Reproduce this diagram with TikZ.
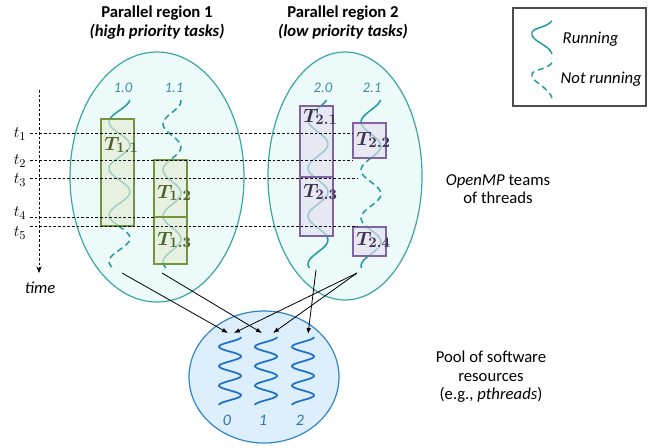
\documentclass[tikz,border=0pt]{standalone}
\usepackage{fontspec}
\setmainfont{Carlito}
\usepackage{bm}
\usepackage{xcolor}
\usetikzlibrary{arrows.meta}

\definecolor{tealrun}{HTML}{1E9A9A}
\definecolor{teallbl}{HTML}{3A8FA6}
\definecolor{regfill}{HTML}{ECFAFA}
\definecolor{regline}{HTML}{3AA6A6}
\definecolor{grnline}{HTML}{77933C}
\definecolor{grnfill}{HTML}{E4EDD6}
\definecolor{grntext}{HTML}{4F6228}
\definecolor{purline}{HTML}{8064A2}
\definecolor{purfill}{HTML}{E3DFEE}
\definecolor{purtext}{HTML}{3F3151}
\definecolor{poolfill}{HTML}{DDEEFC}
\definecolor{poolline}{HTML}{2E86C8}
\definecolor{spring}{HTML}{1F70C8}
\definecolor{poollbl}{HTML}{2E75B6}

\begin{document}
\begin{tikzpicture}[x=0.75pt,y=-0.75pt,
  region/.style={draw=regline,fill=regfill,line width=0.9pt},
  pool/.style={draw=poolline,fill=poolfill,line width=0.9pt},
  run/.style={draw=tealrun,line width=1.1pt},
  idle/.style={run,dash pattern=on 4.5pt off 3pt},
  taskA/.style={draw=grnline,fill=grnfill,fill opacity=0.65,line width=1.5pt},
  taskB/.style={draw=purline,fill=purfill,fill opacity=0.65,line width=1.5pt},
  tlblA/.style={text=grntext,inner sep=0pt,anchor=base west,font=\fontsize{15}{17}\selectfont},
  tlblB/.style={tlblA,text=purtext},
  thrlbl/.style={text=teallbl,font=\fontsize{11}{13}\selectfont\itshape},
  txt/.style={font=\fontsize{12.5}{13.8}\selectfont,align=center},
  title/.style={txt,font=\fontsize{12.5}{14}\selectfont\bfseries},
  tline/.style={line width=0.6pt,dash pattern=on 2pt off 1.5pt},
  link/.style={line width=0.6pt,-{Latex[length=4.5pt,width=3.5pt]}}]
  \useasboundingbox (0,0) rectangle (648,447);

  % regions
  \draw[region] (157,177) ellipse [x radius=87,y radius=125];
  \draw[region] (345,176) ellipse [x radius=77,y radius=124];

  % threads of region 1
  \draw[run] plot[domain=100:226,samples=60,variable=\t] ({119.5-10.5*cos((\t-122)/46.5*360)},\t);
  \draw[idle] plot[domain=226:268,samples=25,variable=\t] ({119.5-10.5*cos((\t-122)/46.5*360)},\t);
  \draw[idle] plot[domain=100:160,samples=30,variable=\t] ({172-9*cos((\t-124)/46*360)},\t);
  \draw[run] plot[domain=160:268,samples=60,variable=\t] ({172-9*cos((\t-124)/46*360)},\t);
  % threads of region 2
  \draw[run] plot[domain=100:268,samples=80,variable=\t] ({318-10*cos((\t-120)/48*360)},\t);
  \draw[run] plot[domain=100:158,samples=30,variable=\t] ({371-10*cos((\t-122)/48*360)},\t);
  \draw[idle] plot[domain=158:227,samples=35,variable=\t] ({371-10*cos((\t-122)/48*360)},\t);
  \draw[run] plot[domain=227:268,samples=25,variable=\t] ({371-10*cos((\t-122)/48*360)},\t);

  % tasks
  \draw[taskA] (101,119) rectangle (134,226);
  \draw[taskA] (154,160) rectangle (187,217);
  \draw[taskA] (154,217) rectangle (187,264);
  \draw[taskB] (300,106) rectangle (333,177);
  \draw[taskB] (300,177) rectangle (333,236);
  \draw[taskB] (353,123) rectangle (386,158);
  \draw[taskB] (353,227) rectangle (386,256);

  % time instants
  \foreach \y/\xe in {133/353,160/353,178/357,217/155,226/357}
    \draw[tline] (30,\y) -- (\xe,\y);
  \node[font=\fontsize{12.5}{14}\selectfont] (t1) at (20,134) {$t_1$};
  \node[font=\fontsize{12.5}{14}\selectfont] (t2) at (20,161) {$t_2$};
  \node[font=\fontsize{12.5}{14}\selectfont] (t3) at (20,180) {$t_3$};
  \node[font=\fontsize{12.5}{14}\selectfont] (t4) at (20,213) {$t_4$};
  \node[font=\fontsize{12.5}{14}\selectfont] (t5) at (20,233) {$t_5$};
  \draw[tline,-{Stealth[length=5pt,width=4pt]}] (39,90) -- (39,273);
  \node[txt,font=\fontsize{12.5}{14}\selectfont\itshape] (time) at (40,288) {time};

  \node[tlblA] (l11) at (104,150) {$\bm{T_{1.1}}$};
  \node[tlblA] (l12) at (157,198) {$\bm{T_{1.2}}$};
  \node[tlblA] (l13) at (157,245) {$\bm{T_{1.3}}$};
  \node[tlblB] (l21) at (303,122) {$\bm{T_{2.1}}$};
  \node[tlblB] (l23) at (303,197) {$\bm{T_{2.3}}$};
  \node[tlblB] (l22) at (356,145) {$\bm{T_{2.2}}$};
  \node[tlblB] (l24) at (356,245) {$\bm{T_{2.4}}$};

  \node[thrlbl] (n10) at (123,88) {1.0};
  \node[thrlbl] (n11) at (174,88) {1.1};
  \node[thrlbl] (n20) at (323,88) {2.0};
  \node[thrlbl] (n21) at (372,88) {2.1};

  % titles
  \node[title] (ttl1) at (157,13) {Parallel region 1};
  \node[title,font=\fontsize{12.5}{14}\selectfont\bfseries\itshape] (sub1) at (157,32) {(high priority tasks)};
  \node[title] (ttl2) at (343,13) {Parallel region 2};
  \node[title,font=\fontsize{12.5}{14}\selectfont\bfseries\itshape] (sub2) at (343,32) {(low priority tasks)};

  % legend
  \draw[line width=0.8pt,draw=black!70] (513,8) rectangle (646,106);
  \draw[run] (552,21) .. controls (545,29) and (530,27) .. (532,35) .. controls (534,42) and (549,45) .. (552,54);
  \draw[idle] (552,63) .. controls (545,71) and (530,69) .. (532,76) .. controls (534,83) and (549,88) .. (552,98);
  \node[txt,font=\fontsize{12.5}{14}\selectfont\itshape,anchor=west] (lrun) at (558,39) {Running};
  \node[txt,font=\fontsize{12.5}{14}\selectfont\itshape,anchor=west] (lidle) at (556,79) {Not running};

  \node[txt] (teams) at (498,189) {\textit{OpenMP} teams\\of threads};

  % pool of software threads
  \draw[pool] (264,377) ellipse [x radius=75,y radius=66];
  \foreach \c/\n in {230/0,266/1,303/2} {
    \draw[draw=spring,line width=1.3pt] plot[domain=337:405,samples=90,variable=\t] ({\c+11*cos((\t-337)/19.43*360)},\t);
    \node[text=poollbl,font=\fontsize{12}{14}\selectfont\itshape] (p\n) at (\c-3,420) {\n};
  }
  \node[txt] (poolt) at (491,377) {Pool of software\\resources\\(e.g., \textit{pthreads})};

  % mapping to software threads
  \coordinate (s10) at (122,273);
  \coordinate (s11) at (162,273);
  \coordinate (s20) at (316,270);
  \coordinate (s21) at (357,273);
  \coordinate (q0a) at (228,333);
  \coordinate (q0b) at (234,333);
  \coordinate (q1a) at (262,333);
  \coordinate (q1b) at (273,333);
  \coordinate (q2) at (308,334);
  \draw[link] (s10) -- (q0a);
  \draw[link] (s21) -- (q0b);
  \draw[link] (s11) -- (q1a);
  \draw[link] (s21) -- (q1b);
  \draw[link] (s20) -- (q2);
\end{tikzpicture}
\end{document}
